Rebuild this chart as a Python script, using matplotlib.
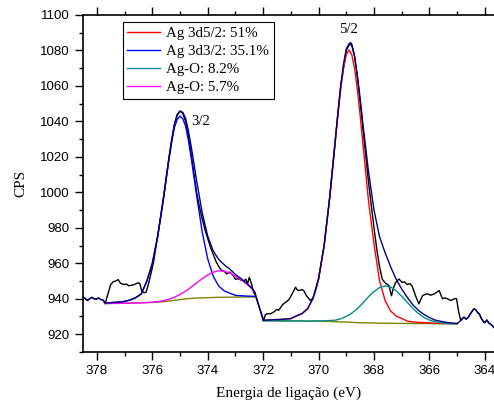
import numpy as np
import matplotlib
matplotlib.use("Agg")
import matplotlib.pyplot as plt
from matplotlib.ticker import MultipleLocator

# espectro medido (Ag 3d)
energia = [378.5, 378.42, 378.34, 378.26, 378.18, 378.1, 378.02, 377.94, 377.86, 377.78, 377.7,
           377.6, 377.5, 377.41, 377.32, 377.23, 377.16, 377.1, 377.0, 376.93, 376.85, 376.75,
           376.65, 376.57, 376.5, 376.45, 376.38, 376.3, 376.22, 376.15, 376.05, 375.95, 375.8,
           375.6, 375.4, 375.2, 375.1, 375.0, 374.9, 374.8, 374.7, 374.6, 374.5, 374.4, 374.3,
           374.2, 374.1, 374.0, 373.9, 373.8, 373.7, 373.6, 373.5, 373.4, 373.32, 373.2, 373.1,
           373.0, 372.9, 372.8, 372.7, 372.62, 372.56, 372.5, 372.43, 372.35, 372.28,
           371.98, 371.92, 371.86, 371.74, 371.62, 371.5, 371.44, 371.36, 371.31, 371.19, 371.07,
           370.96, 370.88, 370.83, 370.77, 370.71, 370.6, 370.53, 370.45, 370.35, 370.29, 370.2,
           370.1, 370.0, 369.8, 369.6, 369.4, 369.2, 369.0, 368.85, 368.8, 368.7, 368.6, 368.5,
           368.4, 368.2, 368.0, 367.9, 367.8, 367.7, 367.6, 367.46, 367.37, 367.3, 367.22, 367.1,
           366.98, 366.9, 366.8, 366.7, 366.62, 366.5, 366.38, 366.3, 366.25, 366.15, 366.07,
           365.95, 365.83, 365.75, 365.65, 365.53, 365.45, 365.35, 365.23, 365.1, 365.02, 364.95,
           364.87, 364.8, 364.75, 364.68, 364.6, 364.5, 364.4, 364.33, 364.25, 364.2, 364.13,
           364.05, 364.0, 363.93, 363.85, 363.78, 363.67]
cps = [941.0, 940.2, 939.0, 940.0, 940.8, 940.0, 939.8, 940.4, 939.6, 939.3, 937.3,
       942.7, 948.0, 949.6, 950.0, 950.8, 949.0, 948.4, 948.0, 948.3, 947.3, 947.6,
       948.0, 948.6, 949.0, 948.5, 944.5, 943.3, 943.8, 947.5, 954.0, 961.0, 976.0,
       996.0, 1019.0, 1038.5, 1044.0, 1045.7, 1044.5, 1040.0, 1032.0, 1022.0, 1011.0, 1000.0, 992.0,
       985.0, 979.0, 974.0, 969.0, 965.0, 961.0, 958.0, 956.0, 955.5, 954.0, 955.0, 953.5,
       951.0, 951.3, 950.5, 950.0, 951.0, 948.5, 952.0, 949.0, 944.0, 941.8,
       927.7, 931.0, 931.5, 931.5, 932.5, 934.0, 933.5, 935.2, 936.5, 938.0, 939.5,
       942.5, 945.0, 946.5, 945.0, 944.6, 945.2, 944.5, 942.0, 940.0, 939.0, 940.5,
       945.0, 951.0, 970.0, 997.0, 1029.0, 1060.0, 1080.0, 1084.5, 1083.5, 1077.0, 1065.0, 1051.0,
       1036.0, 1006.0, 980.0, 968.0, 958.0, 951.0, 949.0, 947.4, 941.7, 946.0, 949.2, 951.1,
       949.2, 949.5, 948.0, 948.5, 947.0, 941.6, 937.1, 940.0, 941.7, 942.5, 942.7,
       942.0, 942.7, 943.5, 944.6, 940.0, 940.5, 940.0, 939.0, 940.0, 940.0, 933.0,
       927.7, 929.0, 929.6, 928.5, 929.5, 932.0, 934.3, 933.8, 932.0, 931.5, 929.0,
       927.0, 926.5, 928.0, 926.2, 925.5, 923.8]

# regiao 3/2 (esquerda)
e_esq = [377.7, 377.4, 377.2, 377.0, 376.8, 376.6, 376.4, 376.2, 376.0, 375.8, 375.6, 375.5,
         375.4, 375.3, 375.2, 375.1, 375.0, 374.9, 374.8, 374.7, 374.6, 374.5, 374.4, 374.2,
         374.0, 373.8, 373.6, 373.4, 373.2, 373.0, 372.8, 372.6, 372.4, 372.3]
fundo_esq = [937.3, 937.4, 937.4, 937.5, 937.5, 937.6, 937.7, 937.8, 937.9, 938.1, 938.3, 938.5,
             938.7, 938.9, 939.1, 939.3, 939.5, 939.7, 939.9, 940.0, 940.2, 940.3, 940.4, 940.5,
             940.6, 940.7, 940.8, 940.8, 940.9, 940.9, 941.0, 941.0, 941.0, 941.0]
ag32 = [0.3, 0.5, 0.7, 1.0, 1.8, 3.0, 5.0, 11.9, 21.9, 37.3, 57.7, 68.8,
        79.7, 89.6, 97.5, 101.8, 103.5, 101.8, 97.5, 89.6, 79.7, 68.8, 57.7, 37.3,
        21.9, 11.9, 6.3, 3.6, 2.2, 1.0, 0.7, 0.5, 0.4, 0.3]
ago_esq = [0, 0, 0, 0, 0, 0, 0, 0.1, 0.1, 0.3, 0.6, 0.8,
           1.0, 1.4, 1.8, 2.3, 2.9, 3.6, 4.4, 5.3, 6.3, 7.4, 8.5, 10.8,
           12.8, 14.3, 15.0, 14.7, 13.6, 11.8, 9.7, 7.4, 4.5, 2.5]

# regiao 5/2 (direita)
e_dir = [372.0, 371.8, 371.6, 371.4, 371.2, 371.0, 370.8, 370.6, 370.4, 370.2, 370.0, 369.8,
         369.6, 369.4, 369.3, 369.2, 369.1, 369.0, 368.9, 368.8, 368.7, 368.6, 368.5, 368.4,
         368.2, 368.0, 367.8, 367.6, 367.4, 367.2, 367.0, 366.8, 366.6, 366.4, 366.2, 366.0,
         365.8, 365.6, 365.4, 365.2, 365.0]
fundo_dir = [927.6, 927.6, 927.6, 927.5, 927.5, 927.5, 927.5, 927.5, 927.4, 927.4, 927.4, 927.3,
             927.2, 927.0, 927.0, 926.9, 926.9, 926.9, 926.8, 926.7, 926.6, 926.5, 926.5, 926.4,
             926.4, 926.3, 926.2, 926.2, 926.2, 926.1, 926.1, 926.1, 926.0, 926.0, 926.0, 926.0,
             925.9, 925.9, 925.9, 925.9, 925.9]
ag52 = [0.3, 0.4, 0.6, 0.8, 1.0, 1.3, 2.8, 4.1, 6.9, 12.8, 23.9, 42.4,
        69.1, 101.0, 117.0, 131.5, 143.2, 150.8, 153.5, 150.8, 143.2, 131.5, 117.0, 101.0,
        69.1, 44.5, 23.9, 12.8, 6.9, 4.1, 2.8, 1.3, 0.9, 0.7, 0.5, 0.4,
        0.3, 0.2, 0.2, 0.1, 0.1]
ago_dir = [0, 0, 0, 0, 0, 0, 0, 0, 0, 0, 0.1, 0.2,
           0.5, 0.9, 1.3, 1.8, 2.4, 3.2, 4.1, 5.2, 6.5, 7.9, 9.5, 11.2,
           14.7, 17.8, 20.1, 21.0, 20.4, 18.4, 15.3, 11.9, 8.6, 5.7, 3.5, 2.0,
           1.1, 0.5, 0.2, 0.1, 0.0]
envelope_dir = [927.9, 928.0, 928.2, 928.3, 928.5, 928.8, 930.3, 931.6, 934.3, 940.2, 951.4, 969.9,
                996.8, 1028.9, 1045.3, 1060.2, 1072.5, 1080.9, 1083.8, 1082.7, 1076.3, 1065.9, 1053.0, 1038.6,
                1012.0, 990.0, 975.0, 966.0, 958.0, 951.0, 945.5, 940.8, 936.6, 933.5, 931.2, 929.4,
                928.0, 927.3, 926.7, 926.3, 926.0]

legendas = ['Ag 3d5/2: 51%', 'Ag 3d3/2: 35.1%', 'Ag-O: 8.2%', 'Ag-O: 5.7%']

energia = np.array(energia)
cps = np.array(cps)
fundo_esq = np.array(fundo_esq)
fundo_dir = np.array(fundo_dir)
envelope_esq = fundo_esq + np.array(ag32) + np.array(ago_esq)

# envelope completo: fora das regioes segue o dado medido
m_esq = energia > 377.7
m_dir = energia <= 364.87
env_x = np.concatenate([energia[m_esq], e_esq, e_dir, energia[m_dir]])
env_y = np.concatenate([cps[m_esq], envelope_esq, envelope_dir, cps[m_dir]])

serif = 'Liberation Serif'
sans = 'Liberation Sans'

fig = plt.figure(figsize=(4.94, 4.05), dpi=100)
ax = fig.add_axes([0.168, 0.131, 0.832, 0.832])

ax.plot(energia, cps, color='black', lw=1.0)
ax.plot(e_esq, fundo_esq, color='#808000', lw=1.0)
ax.plot(e_dir, fundo_dir, color='#808000', lw=1.0)
l1, = ax.plot(e_dir, fundo_dir + np.array(ag52), color='#ff0000', lw=1.0)
l2, = ax.plot(e_esq, fundo_esq + np.array(ag32), color='#0000ff', lw=1.0)
l3, = ax.plot(e_dir, fundo_dir + np.array(ago_dir), color='#008b8b', lw=1.0)
l4, = ax.plot(e_esq, fundo_esq + np.array(ago_esq), color='#ff00ff', lw=1.0)
ax.plot(env_x, env_y, color='#000080', lw=1.0)

ax.set_xlim(378.5, 363.67)
ax.set_ylim(910, 1100)
ax.xaxis.set_major_locator(MultipleLocator(2))
ax.xaxis.set_minor_locator(MultipleLocator(1))
ax.yaxis.set_major_locator(MultipleLocator(20))
ax.yaxis.set_minor_locator(MultipleLocator(10))
ax.tick_params(which='both', direction='out', top=True, right=False, width=1)
ax.tick_params(which='major', length=6, labelsize=9.5)
ax.tick_params(which='minor', length=3)
for lab in ax.get_xticklabels() + ax.get_yticklabels():
    lab.set_fontfamily(sans)
ax.spines['right'].set_visible(False)
for s in ['left', 'bottom', 'top']:
    ax.spines[s].set_linewidth(1.2)

ax.set_xlabel('Energia de ligação (eV)', fontfamily=serif, fontsize=11, labelpad=7)
ax.set_ylabel('CPS', fontfamily=serif, fontsize=11, labelpad=9)

ax.text(374.6, 1040, '3/2', fontfamily=serif, fontsize=10.5, va='center', ha='left')
ax.text(368.94, 1091.6, '5/2', fontfamily=serif, fontsize=10.5, va='center', ha='center')

leg = ax.legend([l1, l2, l3, l4], legendas, loc='upper left', bbox_to_anchor=(0.097, 0.979),
                borderaxespad=0, fancybox=False, framealpha=1, edgecolor='black',
                prop={'family': serif, 'size': 10.8}, handlelength=2.2, labelspacing=0.3,
                handletextpad=0.4, borderpad=0.3)
leg.get_frame().set_linewidth(0.8)

fig.savefig('out.png', dpi=100)
